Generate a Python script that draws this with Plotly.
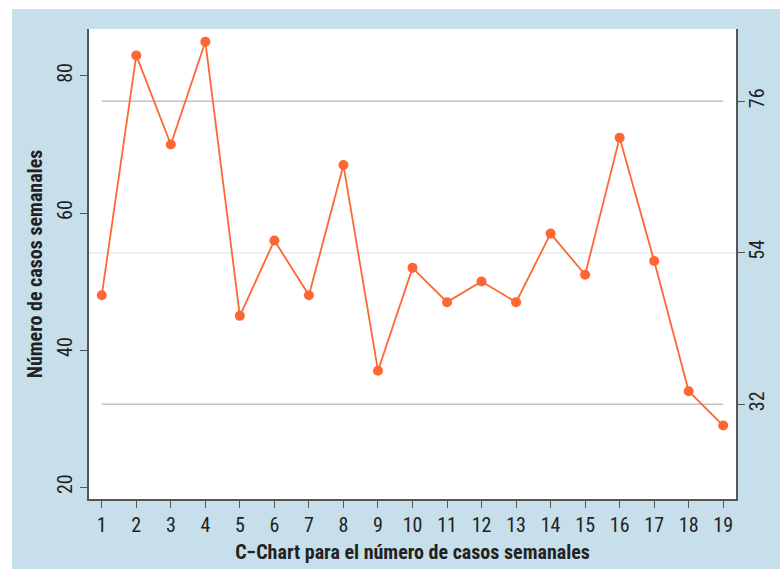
import plotly.graph_objects as go

# ---- data ----
weeks = list(range(1, 20))
cases = [48, 83, 70, 85, 45, 56, 48, 67, 37, 52, 47, 50, 47, 57, 51, 71, 53, 34, 29]
ucl = 76.3
cl = 54.2
lcl = 32.1
left_ticks = [20, 40, 60, 80]
right_ticks = [lcl, cl, ucl]
right_ticktext = ["32", "54", "76"]
x_title = "C\u2212Chart para el número de casos semanales"
y_title = "Número de casos semanales"

# ---- style ----
W, H = 780, 569
ML, MR, MT, MB = 89, 44, 29, 70
BOX_X0, BOX_Y0 = 12, 9
FONT = "Roboto Condensed, Liberation Sans Narrow, DejaVu Sans Condensed, Roboto, sans-serif"
BLUE = "#c6dfea"
ORANGE = "#fe6633"
AXIS = "#555555"

pw = W - ML - MR
ph = H - MT - MB

fig = go.Figure()
fig.add_trace(go.Scatter(x=[weeks[0], weeks[-1]], y=[ucl, ucl], mode="lines",
                         line=dict(color="#c2c2c2", width=1.5), hoverinfo="skip"))
fig.add_trace(go.Scatter(x=[weeks[0], weeks[-1]], y=[lcl, lcl], mode="lines",
                         line=dict(color="#c2c2c2", width=1.5), hoverinfo="skip"))
fig.add_trace(go.Scatter(x=weeks, y=cases, mode="lines+markers",
                         line=dict(color=ORANGE, width=1.8),
                         marker=dict(color=ORANGE, size=10)))
# invisible trace to activate right axis
fig.add_trace(go.Scatter(x=[weeks[0]], y=[cl], yaxis="y2", mode="markers",
                         marker=dict(opacity=0), hoverinfo="skip"))

yr = [18.28, 86.85]
fig.update_layout(
    width=W, height=H,
    margin=dict(l=ML, r=MR, t=MT, b=MB, autoexpand=False),
    paper_bgcolor="white",
    plot_bgcolor="white",
    showlegend=False,
    font=dict(family=FONT, size=20, color="#222222"),
    xaxis=dict(range=[0.63, 19.37], tickvals=weeks, ticktext=[str(w) for w in weeks],
               automargin=False,
               showgrid=False, zeroline=False, showline=True, linecolor=AXIS, linewidth=1.5,
               ticks="outside", ticklen=7, tickcolor=AXIS, tickwidth=1.2,
               title=dict(text="<b>" + x_title + "</b>", font=dict(size=20), standoff=9)),
    yaxis=dict(range=yr, tickvals=left_ticks, showgrid=False, zeroline=False,
               automargin=False,
               showline=True, linecolor=AXIS, linewidth=1.5, tickangle=-90,
               ticks="outside", ticklen=7, tickcolor=AXIS, tickwidth=1.2,
               title=dict(text="<b>" + y_title + "</b>", font=dict(size=20), standoff=5)),
    yaxis2=dict(range=yr, overlaying="y", side="right", tickvals=right_ticks,
                automargin=False, ticklabelstandoff=-5,
                ticktext=right_ticktext, showgrid=False, zeroline=False,
                showline=True, linecolor=AXIS, linewidth=1.5, tickangle=-90,
                ticks="outside", ticklen=7, tickcolor=AXIS, tickwidth=1.2),
    shapes=[
        dict(type="rect", xref="paper", yref="paper", layer="below",
             x0=(BOX_X0 - ML) / pw, x1=(W - ML) / pw,
             y0=-(MB + 5) / ph, y1=(H - MB - BOX_Y0) / ph,
             fillcolor=BLUE, line=dict(width=0)),
        dict(type="rect", xref="paper", yref="paper", layer="below",
             x0=0, x1=1, y0=0, y1=1, fillcolor="white", line=dict(width=0)),
        dict(type="line", xref="paper", yref="y", layer="below",
             x0=0, x1=1, y0=cl, y1=cl, line=dict(color="#e8eef2", width=1.5)),
    ],
)

fig.write_html("out.html")
